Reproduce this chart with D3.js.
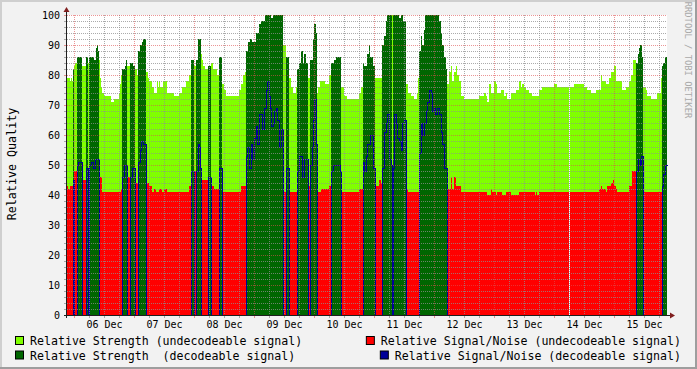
<!DOCTYPE html>
<html>
<head>
<meta charset="utf-8">
<script src="https://cdn.jsdelivr.net/npm/d3@7"></script>
<style>
  body { margin: 0; background: #fff; }
  svg { display: block; }
  text { font-family: "DejaVu Sans Mono", monospace; fill: #000; white-space: pre; }
</style>
</head>
<body>
<svg id="chart" width="697" height="369"></svg>
<script>
// times are hours after 06 Dec 00:00, values are % quality
var decodeSpans = [
  [-0.4, 0], [1.2, 3.2], [4.8, 5.6], [6.0, 10.0], [19.2, 21.2], [22.4, 24.4],
  [25.6, 28.8], [46.8, 48.0], [48.8, 50.8], [53.6, 54.8], [58.0, 59.2],
  [68.8, 83.6], [84.8, 86.0], [89.2, 93.6], [94.4, 97.2], [102.8, 106.8],
  [115.6, 120.4], [123.2, 127.2], [127.6, 132.8], [138.0, 149.2],
  [224.8, 227.6], [235.2, 237.2]
];

var gaps = [[198.0, 198.4]];

var strength = [
  [-2.8, 79], [-1.6, 78], [-1.2, 79], [-0.8, 78], [-0.4, 82], [0.0, 83], [0.4, 84], [1.2, 86],
  [3.2, 83], [4.8, 86], [5.6, 84], [6.0, 86], [8.0, 85], [8.8, 89], [9.2, 90], [9.6, 88],
  [10.0, 85], [10.4, 79], [10.8, 76], [11.2, 74], [12.0, 73], [14.8, 71], [16.0, 72],
  [18.0, 74], [18.4, 77], [18.8, 80], [19.2, 82], [20.4, 83], [20.8, 85], [21.2, 83],
  [22.4, 84], [23.6, 83], [24.4, 82], [25.2, 80], [25.6, 88], [26.4, 90], [27.2, 91],
  [27.6, 92], [28.8, 81], [29.6, 79], [30.0, 78], [31.2, 76], [32.0, 74], [33.2, 78],
  [33.6, 76], [34.0, 78], [34.4, 76], [35.6, 78], [37.2, 74], [40.0, 73], [42.0, 74],
  [43.2, 76], [44.8, 78], [46.0, 80], [46.8, 85], [48.0, 83], [48.8, 85], [49.6, 92],
  [50.8, 87], [51.2, 85], [51.6, 83], [52.4, 82], [53.6, 83], [54.8, 84], [55.6, 82],
  [57.2, 80], [58.0, 86], [59.2, 77], [60.0, 75], [60.8, 73], [66.0, 75], [66.8, 77],
  [67.6, 80], [68.4, 81], [68.8, 88], [69.6, 91], [70.4, 92], [71.2, 91], [72.8, 94],
  [74.0, 97], [74.8, 98], [76.4, 100], [78.8, 99], [79.6, 100], [83.6, 90], [84.8, 86],
  [86.0, 79], [86.8, 76], [87.6, 74], [88.8, 76], [89.2, 82], [90.0, 84], [90.8, 88],
  [91.6, 84], [92.0, 87], [92.8, 84], [93.6, 79], [94.4, 85], [95.6, 92], [96.0, 97],
  [96.8, 94], [97.2, 74], [97.6, 76], [98.4, 78], [100.4, 77], [102.0, 80], [102.8, 84],
  [104.0, 85], [104.8, 86], [106.8, 76], [108.0, 73], [109.2, 72], [114.0, 74], [114.8, 76],
  [115.6, 84], [116.0, 83], [117.2, 87], [118.0, 90], [118.4, 86], [119.6, 83], [120.4, 79],
  [123.2, 90], [124.0, 93], [124.8, 98], [125.2, 100], [130.0, 99], [130.8, 100], [131.6, 98],
  [132.8, 77], [133.6, 74], [134.8, 73], [136.0, 72], [137.2, 74], [137.6, 79], [138.0, 88],
  [138.8, 93], [139.2, 90], [140.0, 95], [140.4, 100], [146.0, 98], [146.8, 94], [147.2, 90],
  [148.0, 86], [148.8, 82], [149.2, 77], [150.0, 81], [150.8, 83], [151.2, 78], [152.0, 81],
  [152.8, 83], [153.2, 80], [154.0, 78], [154.8, 73], [156.0, 72], [162.0, 73], [164.0, 74],
  [164.8, 73], [165.2, 71], [166.0, 77], [166.8, 74], [168.0, 78], [168.8, 77], [169.2, 74],
  [170.8, 75], [172.0, 73], [172.8, 74], [173.2, 72], [174.8, 74], [176.8, 75], [178.0, 78],
  [178.8, 76], [179.2, 77], [180.0, 76], [180.8, 75], [182.0, 74], [183.2, 73], [186.0, 75],
  [187.2, 76], [192.0, 77], [193.2, 76], [200.0, 77], [204.0, 76], [205.2, 75], [206.8, 74],
  [208.8, 75], [210.8, 80], [211.2, 78], [212.8, 77], [214.0, 79], [214.8, 81], [216.0, 83],
  [216.8, 78], [219.2, 75], [220.8, 76], [222.0, 78], [222.8, 80], [223.6, 85], [224.8, 84],
  [225.6, 87], [226.0, 89], [226.4, 90], [227.2, 86], [227.6, 76], [228.8, 75], [229.2, 73],
  [230.8, 72], [233.2, 74], [234.8, 79], [235.2, 83], [235.6, 84], [236.4, 86]
];

var snr = [
  [-2.8, 43], [-2.4, 42], [-1.6, 43], [-0.4, 45], [0.0, 48], [1.2, 50], [1.6, 51], [3.2, 45],
  [4.8, 49], [5.6, 48], [6.0, 50], [6.8, 51], [7.6, 49], [8.4, 52], [10.0, 46], [11.2, 41],
  [18.8, 42], [19.2, 46], [20.0, 50], [21.2, 46], [22.4, 46], [23.2, 49], [24.4, 44],
  [25.6, 51], [26.4, 55], [26.8, 58], [27.6, 57], [28.8, 44], [30.0, 43], [31.2, 41],
  [32.0, 42], [32.8, 41], [34.0, 42], [35.2, 41], [36.0, 42], [37.2, 41], [46.0, 43],
  [46.8, 48], [48.8, 48], [49.6, 57], [50.0, 56], [50.4, 49], [50.8, 45], [53.6, 46],
  [54.8, 43], [56.0, 42], [58.0, 49], [59.2, 46], [59.6, 41], [66.8, 43], [68.8, 53],
  [69.2, 56], [70.0, 49], [70.8, 57], [71.2, 52], [72.0, 59], [72.8, 63], [73.2, 57],
  [74.0, 67], [75.2, 62], [76.0, 69], [76.8, 75], [77.2, 78], [78.0, 73], [78.4, 69],
  [78.8, 63], [79.6, 64], [80.0, 68], [80.8, 69], [81.2, 65], [82.0, 56], [82.8, 62],
  [83.6, 62], [84.0, 41], [84.8, 49], [86.0, 41], [89.2, 48], [90.0, 53], [91.2, 46],
  [92.0, 52], [93.6, 43], [94.4, 50], [95.2, 56], [95.6, 65], [96.0, 72], [96.8, 57],
  [97.2, 41], [98.8, 42], [102.0, 43], [102.8, 48], [103.6, 50], [106.4, 48], [106.8, 41],
  [114.0, 42], [115.6, 51], [116.0, 48], [116.8, 53], [117.2, 57], [118.4, 60], [119.6, 49],
  [120.4, 43], [122.0, 45], [122.8, 44], [123.2, 49], [124.0, 61], [124.8, 64], [125.2, 67],
  [126.0, 52], [126.8, 50], [127.6, 49], [128.0, 67], [128.8, 64], [129.2, 59], [130.0, 58],
  [130.8, 55], [131.2, 64], [132.0, 65], [132.8, 42], [133.6, 41], [138.0, 54], [138.8, 64],
  [139.2, 60], [140.0, 64], [140.8, 68], [141.2, 71], [142.0, 75], [142.8, 74], [143.2, 68],
  [144.0, 69], [144.4, 67], [145.2, 69], [146.0, 67], [146.8, 61], [147.2, 57], [148.0, 49],
  [149.2, 42], [150.8, 46], [151.2, 42], [152.0, 46], [152.8, 43], [154.8, 41], [165.2, 40],
  [166.8, 42], [167.2, 41], [168.8, 40], [169.2, 41], [171.2, 40], [172.8, 41], [174.8, 40],
  [178.0, 41], [184.4, 40], [184.8, 41], [185.2, 40], [186.0, 41], [210.0, 42], [210.8, 43],
  [211.2, 42], [212.8, 41], [213.2, 43], [214.8, 44], [215.6, 45], [216.0, 43], [216.8, 42],
  [217.2, 41], [222.0, 43], [223.2, 48], [224.8, 48], [225.6, 52], [226.4, 50], [226.8, 53],
  [227.6, 41], [235.2, 43], [235.6, 47], [236.4, 50]
];

var dayLabels = ["06 Dec", "07 Dec", "08 Dec", "09 Dec", "10 Dec", "11 Dec", "12 Dec", "13 Dec", "14 Dec", "15 Dec"];
var yTickValues = [0, 10, 20, 30, 40, 50, 60, 70, 80, 90, 100];

var legendLabels = [
  "Relative Strength (undecodeable signal)",
  "Relative Signal/Noise (undecodeable signal)",
  "Relative Strength  (decodeable signal)",
  "Relative Signal/Noise (decodeable signal)"
];
var legendColors = ["#80ff00", "#ff0000", "#006600", "#000099"];

var tStart = -2.8, tEnd = 237.2;
var W = 697, H = 369;
var plot = { left: 67, right: 667, top: 15, bottom: 315 };

var svg = d3.select("#chart");

var x = d3.scaleLinear().domain([tStart, tEnd]).range([plot.left, plot.right]);
var y = d3.scaleLinear().domain([0, 100]).range([plot.bottom, plot.top]);

// step lookups
function stepAt(series, t) {
  var v = series[0][1];
  for (var i = 0; i < series.length; i++) {
    if (series[i][0] <= t + 1e-6) v = series[i][1];
    else break;
  }
  return v;
}
function inside(spans, t) {
  return spans.some(s => t >= s[0] - 1e-6 && t < s[1] - 1e-6);
}

var cuts = [tStart, tEnd]
  .concat(strength.map(d => d[0]), snr.map(d => d[0]), decodeSpans.flat(), gaps.flat())
  .map(t => +t.toFixed(2))
  .filter(t => t >= tStart && t <= tEnd);
cuts = Array.from(new Set(cuts)).sort((a, b) => a - b);

var rows = cuts.map(t => {
  var dec = inside(decodeSpans, t), gap = inside(gaps, t);
  var s = gap ? 0 : stepAt(strength, t), n = gap ? 0 : stepAt(snr, t);
  return { t: t, lg: dec ? 0 : s, red: dec ? 0 : n, dg: dec ? s : 0, blue: dec ? n : 0 };
});
// last point only closes the final step
var last = rows[rows.length - 1], prev = rows[rows.length - 2];
last.lg = prev.lg; last.red = prev.red; last.dg = prev.dg; last.blue = prev.blue;

// background + frame
svg.append("rect").attr("width", W).attr("height", H).attr("fill", "#f2f2f2");
svg.append("rect").attr("x", 0).attr("y", 0).attr("width", W).attr("height", 2).attr("fill", "#cfcfcf");
svg.append("rect").attr("x", 0).attr("y", 0).attr("width", 2).attr("height", H).attr("fill", "#cfcfcf");
svg.append("rect").attr("x", 0).attr("y", H - 2).attr("width", W).attr("height", 2).attr("fill", "#9e9e9e");
svg.append("rect").attr("x", W - 2).attr("y", 0).attr("width", 2).attr("height", H).attr("fill", "#9e9e9e");

// canvas
svg.append("rect")
  .attr("x", plot.left).attr("y", plot.top)
  .attr("width", plot.right - plot.left).attr("height", plot.bottom - plot.top)
  .attr("fill", "#fff");

var g = svg.append("g").attr("shape-rendering", "crispEdges");

function areaOf(key) {
  return d3.area()
    .x(d => x(d.t))
    .y0(y(0))
    .y1(d => y(d[key]))
    .curve(d3.curveStepAfter);
}

g.append("path").datum(rows).attr("d", areaOf("lg")).attr("fill", legendColors[0]);
g.append("path").datum(rows).attr("d", areaOf("red")).attr("fill", legendColors[1]);
g.append("path").datum(rows).attr("d", areaOf("dg")).attr("fill", legendColors[2]);

var blueLine = d3.line()
  .x(d => x(d.t))
  .y(d => y(d.blue))
  .curve(d3.curveStepAfter);
g.append("path").datum(rows)
  .attr("d", blueLine)
  .attr("transform", "translate(0.5,0.5)")
  .attr("fill", "none")
  .attr("stroke", legendColors[3])
  .attr("stroke-width", 1);

// unknown data
g.selectAll("rect.gap").data(gaps).enter().append("rect")
  .attr("class", "gap")
  .attr("x", d => x(d[0])).attr("width", d => x(d[1]) - x(d[0]))
  .attr("y", plot.top).attr("height", plot.bottom - plot.top)
  .attr("fill", "#fff");

// grid on top of the data
var minorCol = "rgba(143,143,143,0.75)", majorCol = "rgba(222,79,79,0.6)";
var grid = svg.append("g").attr("shape-rendering", "crispEdges").attr("stroke-dasharray", "1,1");

var hMinor = d3.range(2, 100, 2).filter(v => v % 10 !== 0);
var hMajor = yTickValues.filter(v => v > 0);
grid.selectAll("line.hmin").data(hMinor).enter().append("line")
  .attr("x1", plot.left).attr("x2", plot.right)
  .attr("y1", d => y(d) + 0.5).attr("y2", d => y(d) + 0.5)
  .attr("stroke", minorCol);
var vHours = d3.range(0, tEnd, 6);
grid.selectAll("line.vmin").data(vHours.filter(h => h % 24 !== 0)).enter().append("line")
  .attr("x1", d => x(d) + 0.5).attr("x2", d => x(d) + 0.5)
  .attr("y1", plot.top).attr("y2", plot.bottom)
  .attr("stroke", minorCol);
grid.selectAll("line.hmaj").data(hMajor).enter().append("line")
  .attr("x1", plot.left).attr("x2", plot.right)
  .attr("y1", d => y(d) + 0.5).attr("y2", d => y(d) + 0.5)
  .attr("stroke", majorCol);
var dayHours = dayLabels.map((d, i) => i * 24);
grid.selectAll("line.vmaj").data(dayHours).enter().append("line")
  .attr("x1", d => x(d) + 0.5).attr("x2", d => x(d) + 0.5)
  .attr("y1", plot.top).attr("y2", plot.bottom)
  .attr("stroke", majorCol);

// ticks on the axes
var ticks = svg.append("g").attr("shape-rendering", "crispEdges");
ticks.selectAll("line.ytm").data(hMinor).enter().append("line")
  .attr("x1", plot.left - 3).attr("x2", plot.left)
  .attr("y1", d => y(d) + 0.5).attr("y2", d => y(d) + 0.5)
  .attr("stroke", minorCol);
ticks.selectAll("line.ytM").data(yTickValues).enter().append("line")
  .attr("x1", plot.left - 3).attr("x2", plot.left)
  .attr("y1", d => y(d) + 0.5).attr("y2", d => y(d) + 0.5)
  .attr("stroke", majorCol);
ticks.selectAll("line.xtm").data(vHours.filter(h => h % 24 !== 0)).enter().append("line")
  .attr("x1", d => x(d) + 0.5).attr("x2", d => x(d) + 0.5)
  .attr("y1", plot.bottom).attr("y2", plot.bottom + 3)
  .attr("stroke", minorCol);
ticks.selectAll("line.xtM").data(dayHours).enter().append("line")
  .attr("x1", d => x(d) + 0.5).attr("x2", d => x(d) + 0.5)
  .attr("y1", plot.bottom).attr("y2", plot.bottom + 3)
  .attr("stroke", majorCol);

// axes with arrows
var axisCol = "#1f1f1f", arrowCol = "#801f1f";
svg.append("line")
  .attr("x1", plot.left - 3).attr("x2", plot.right + 4)
  .attr("y1", plot.bottom + 0.5).attr("y2", plot.bottom + 0.5)
  .attr("stroke", axisCol).attr("shape-rendering", "crispEdges");
svg.append("line")
  .attr("x1", plot.left - 0.5).attr("x2", plot.left - 0.5)
  .attr("y1", plot.bottom + 3).attr("y2", plot.top - 4)
  .attr("stroke", axisCol).attr("shape-rendering", "crispEdges");
svg.append("path")
  .attr("d", `M${plot.right + 3},${plot.bottom - 2.5}L${plot.right + 8},${plot.bottom + 0.5}L${plot.right + 3},${plot.bottom + 3.5}Z`)
  .attr("fill", arrowCol);
svg.append("path")
  .attr("d", `M${plot.left - 3.5},${plot.top - 3}L${plot.left - 0.5},${plot.top - 8}L${plot.left + 2.5},${plot.top - 3}Z`)
  .attr("fill", arrowCol);

// tick labels
svg.selectAll("text.ylab").data(yTickValues).enter().append("text")
  .attr("x", plot.left - 7).attr("y", d => y(d) + 3.8)
  .attr("text-anchor", "end")
  .style("font-size", "10px")
  .text(d => d);
svg.selectAll("text.xlab").data(dayLabels).enter().append("text")
  .attr("x", (d, i) => x(i * 24 + 12) + 0.5).attr("y", plot.bottom + 13)
  .attr("text-anchor", "middle")
  .style("font-size", "10px")
  .text(d => d);

// vertical title
svg.append("text")
  .attr("transform", "translate(15.5,164) rotate(-90)")
  .attr("text-anchor", "middle")
  .style("font-size", "11.7px")
  .text("Relative Quality");

// watermark
svg.append("text")
  .attr("transform", "translate(685,60) rotate(90)")
  .attr("text-anchor", "middle")
  .style("font-size", "8.8px")
  .style("fill", "#a9a9a9")
  .text("RRDTOOL / TOBI OETIKER");

// legend
var legendRows = [345, 359.5];
legendLabels.forEach((label, i) => {
  var row = Math.floor(i / 2), col = i % 2;
  var t = svg.append("text")
    .attr("y", legendRows[row])
    .style("font-size", "11.6px")
    .text(label);
  var tx;
  if (col === 0) {
    tx = 30;
    t.attr("x", tx);
  } else {
    t.attr("x", 681).attr("text-anchor", "end");
    tx = 681 - t.node().getComputedTextLength();
  }
  svg.append("rect")
    .attr("x", tx - 14.5).attr("y", legendRows[row] - 8.5)
    .attr("width", 8).attr("height", 8)
    .attr("fill", legendColors[i])
    .attr("stroke", "#000").attr("stroke-width", 1);
});
</script>
</body>
</html>
